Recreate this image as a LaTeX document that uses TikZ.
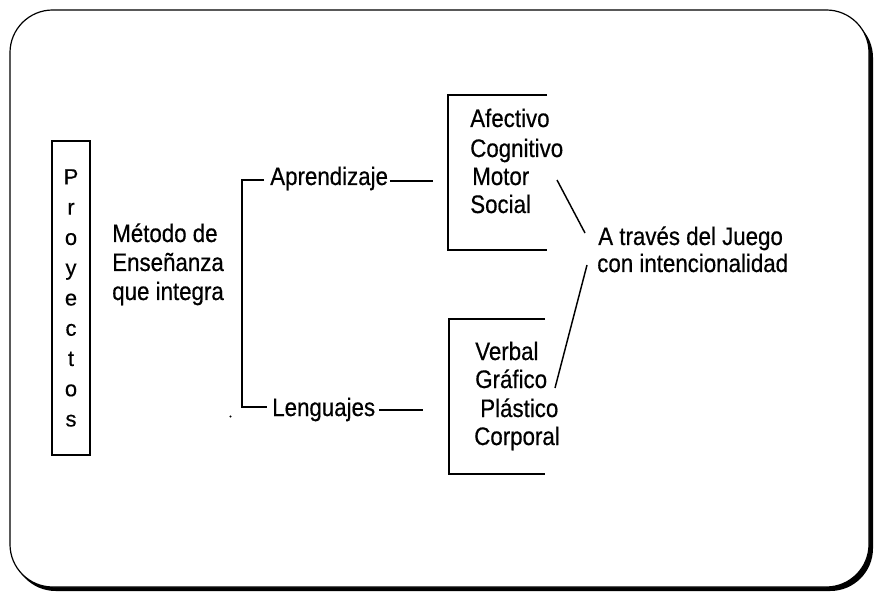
\documentclass[tikz,border=0pt]{standalone}
\usepackage{fontspec}
\setmainfont{Liberation Sans}[FakeStretch=0.88,FakeBold=0.5]
\newfontfamily\letterfont{Liberation Sans}[FakeBold=0.4]
\begin{document}
\begin{tikzpicture}[x=0.75pt,y=-0.75pt,
  txt/.style={font=\fontsize{19}{21}\selectfont, inner sep=0pt, anchor=base west},
  ln/.style={line width=1.1pt},
  boxln/.style={line width=1pt}]
\useasboundingbox (0,0) rectangle (874,598);
% frame with shadow
\fill[black, rounded corners=32pt] (13,15) rectangle (873,591);
\filldraw[fill=white, draw=black, line width=0.9pt, rounded corners=32pt] (10,10) rectangle (869,587);

% Proyectos box
\node[draw, boxln, minimum width=28.5pt, minimum height=235.5pt, inner sep=0pt,
      align=center, font=\letterfont\fontsize{16.5}{22.7}\selectfont] (proy) at (71,298)
  {P\\r\\o\\y\\e\\c\\t\\o\\s};

% Metodo
\node[txt] (m1) at (112,242) {Método de};
\node[txt] (m2) at (112,271) {Enseñanza};
\node[txt] (m3) at (112,300) {que integra};

% branches
\node[txt] (apr) at (270,185) {Aprendizaje};
\node[txt] (len) at (272,416) {Lenguajes};
\coordinate (brt) at (242,180);
\coordinate (brb) at (242,407);
\coordinate (brtE) at (264,180);
\coordinate (brbE) at (267,407);
\draw[ln] (brtE) -- (brt) -- (brb) -- (brbE);
\coordinate (aprE) at (433,181);
\coordinate (lenE) at (423,410);
\draw[ln] ([xshift=1.5pt]apr.east |- aprE) -- (aprE);
\draw[ln] ([xshift=3pt]len.east |- lenE) -- (lenE);

% upper box
\coordinate (ub1) at (547,95);
\coordinate (ub2) at (448,95);
\coordinate (ub3) at (448,250);
\coordinate (ub4) at (547,250);
\draw[boxln] (ub1) -- (ub2) -- (ub3) -- (ub4);
\node[txt] (af) at (470,127) {Afectivo};
\node[txt] (co) at (470,157) {Cognitivo};
\node[txt] (mo) at (472,185) {Motor};
\node[txt] (so) at (470,213) {Social};

% lower box
\coordinate (lb1) at (545,319);
\coordinate (lb2) at (449,319);
\coordinate (lb3) at (449,474);
\coordinate (lb4) at (545,474);
\draw[boxln] (lb1) -- (lb2) -- (lb3) -- (lb4);
\node[txt] (ve) at (475,360) {Verbal};
\node[txt] (gr) at (475,388) {Gráfico};
\node[txt] (pl) at (480,417) {Plástico};
\node[txt] (cp) at (474,445) {Corporal};

% result
\node[txt] (j1) at (598,245) {A través del Juego};
\node[txt] (j2) at (597,272) {con intencionalidad};

\coordinate (d1s) at (557,180);
\coordinate (d1e) at (585,233);
\coordinate (d2s) at (587,265);
\coordinate (d2e) at (555,388);
\draw[ln] (d1s) -- (d1e);
\draw[ln] (d2s) -- (d2e);

% small dot
\fill (230.5,416.5) circle (0.8pt);
\end{tikzpicture}
\end{document}
